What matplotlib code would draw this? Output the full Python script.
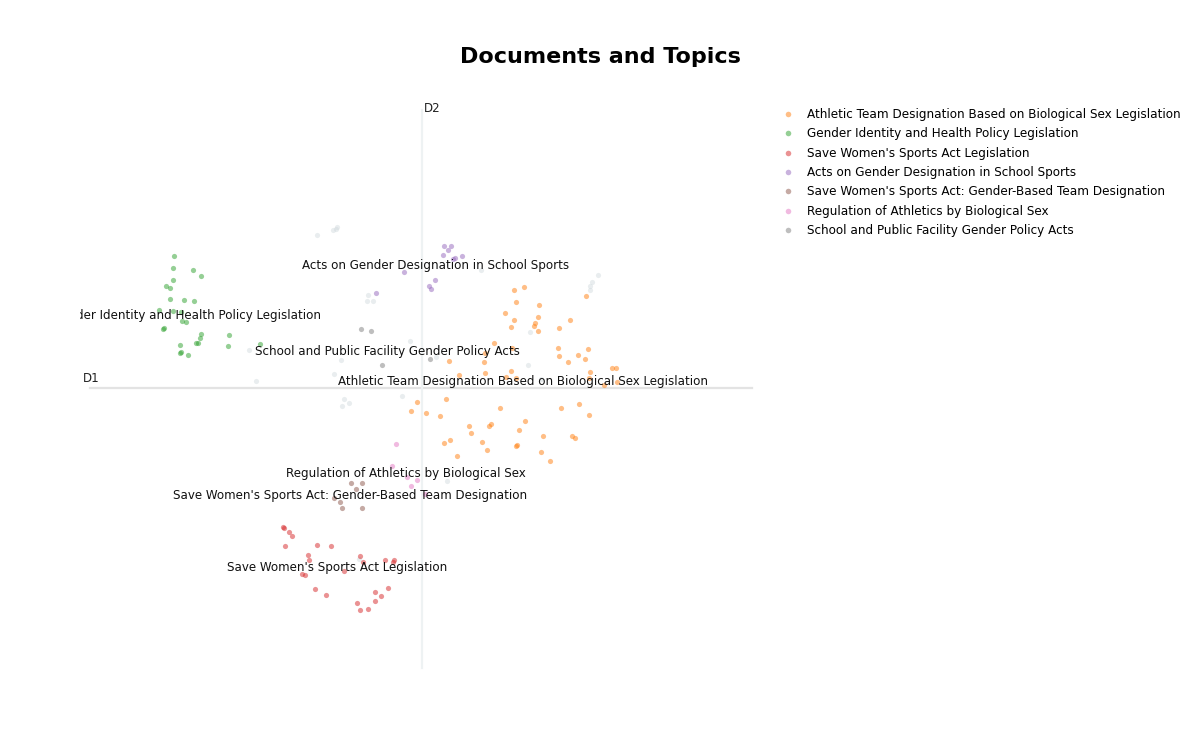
import matplotlib
matplotlib.use("Agg")
import matplotlib.pyplot as plt
from matplotlib.lines import Line2D
import numpy as np

plt.rcParams['font.family'] = ['DejaVu Sans']

# ---------------- data (2D document embedding, D1 / D2) ----------------
topic_names = [
    "Athletic Team Designation Based on Biological Sex Legislation",
    "Gender Identity and Health Policy Legislation",
    "Save Women's Sports Act Legislation",
    "Acts on Gender Designation in School Sports",
    "Save Women's Sports Act: Gender-Based Team Designation",
    "Regulation of Athletics by Biological Sex",
    "School and Public Facility Gender Policy Acts",
]
topic_colors = ["#ff7f0e", "#2ca02c", "#d62728", "#9467bd", "#8c564b", "#e377c2", "#7f7f7f"]

athletic_d1 = [92, 102, 94, 117, 83, 92, 116, 113, 112, 116, 89, 148, 137, 164, 72, 90, 63, 27, 62, 63,
               37, 89, 84, 94, 136, 137, 156, 166, 163, 146, 168, 167, 190, 194, 195, 182, 24, 4, 18, 78,
               139, 157, 167, 103, 69, 67, 47, 49, 97, 121, 150, 153, 60, 28, 22, 95, 94, 65, 35, 119,
               128, -5, -11]
athletic_d2 = [98, 101, 86, 83, 75, 68, 71, 65, 62, 57, 61, 68, 60, 92, 45, 40, 35, 27, 26, 15,
               13, 17, 11, 10, 40, 32, 33, 39, 29, 26, 16, 10, 20, 20, 6, 3, -11, -25, -28, -20,
               -20, -16, -27, -33, -36, -38, -38, -45, -42, -48, -48, -50, -54, -52, -55, -57, -58, -62, -68, -64,
               -73, -14, -23]

gender_d1 = [-248, -249, -229, -221, -249, -256, -252, -252, -238, -228, -263, -249, -241, -240, -236,
             -259, -258, -221, -222, -226, -224, -193, -194, -242, -241, -242, -234, -162]
gender_d2 = [132, 120, 118, 112, 108, 102, 100, 89, 88, 87, 78, 77, 76, 67, 66,
             59, 60, 54, 50, 45, 45, 53, 42, 43, 36, 35, 33, 44]

swsa_d1 = [-139, -138, -133, -130, -137, -105, -91, -114, -113, -62, -59, -37, -28, -29, -120, -117,
           -78, -107, -96, -47, -34, -41, -65, -47, -62, -54]
swsa_d2 = [-139, -140, -144, -148, -158, -157, -158, -167, -172, -168, -174, -172, -172, -174, -186, -187,
           -183, -201, -207, -204, -200, -208, -215, -213, -222, -221]

acts_d1 = [22, 29, 26, 21, 33, 31, 40, -18, 13, 7, 9, -46]
acts_d2 = [142, 142, 138, 133, 130, 129, 132, 116, 108, 102, 99, 95]

team_d1 = [-71, -60, -66, -88, -82, -80, -60]
team_d2 = [-95, -95, -101, -110, -114, -120, -120]

regulation_d1 = [-26, -30, -15, -5, -11, 3]
regulation_d2 = [-56, -78, -89, -92, -98, -106]

facility_d1 = [-61, -51, -40, 8]
facility_d2 = [59, 57, 23, 29]

outlier_d1 = [-105, -89, -85, -86, -54, -55, -49, -12, -81, -88, -166, -173, -78, -80, -73, -20,
              59, 108, 106, 119, 14, 176, 170, 168, 168, 25, -63]
outlier_d2 = [153, 158, 161, 159, 93, 87, 87, 47, 28, 14, 7, 38, -11, -18, -15, -8,
              118, 56, 23, 9, 31, 113, 106, 102, 98, -93, -171]

# topic label positions (centroids)
label_d1 = [101, -235, -85, 14, -72, -16, -35]
label_d2 = [6, 72, -180, 123, -107, -86, 36]

topic_d1 = [athletic_d1, gender_d1, swsa_d1, acts_d1, team_d1, regulation_d1, facility_d1]
topic_d2 = [athletic_d2, gender_d2, swsa_d2, acts_d2, team_d2, regulation_d2, facility_d2]

# ---------------- figure ----------------
fig = plt.figure(figsize=(12, 7.5), dpi=100)
ax = fig.add_axes([80 / 1200, 1 - 680 / 750, 684 / 1200, 580 / 750])
ax.set_xlim(-342, 342)
ax.set_ylim(-292, 288)
ax.axis('off')

# centre lines
ax.plot([-332, 330], [0, 0], color='#e3e3e3', lw=1.6, zorder=0)
ax.plot([0, 0], [-280, 278], color='#eef2f3', lw=1.6, zorder=0)
ax.text(-339, 3, "D1", fontsize=8.6, ha='left', va='bottom', color='#222222')
ax.text(2, 273, "D2", fontsize=8.6, ha='left', va='bottom', color='#222222')

# outliers
ax.scatter(outlier_d1, outlier_d2, s=14, color='#CFD8DC', alpha=0.45, linewidths=0, zorder=1)

handles = []
for name, col, xs, ys in zip(topic_names, topic_colors, topic_d1, topic_d2):
    ax.scatter(xs, ys, s=14, color=col, alpha=0.5, linewidths=0, zorder=2)
    handles.append(Line2D([0], [0], marker='o', linestyle='', markersize=4,
                          markerfacecolor=col, markeredgewidth=0, alpha=0.5, label=name))

for name, lx, ly in zip(topic_names, label_d1, label_d2):
    t = ax.text(lx, ly, name, fontsize=8.6, ha='center', va='center', color='#111111', zorder=3)
    t.set_clip_on(True)

fig.text(0.5, 1 - 57 / 750, "Documents and Topics", fontsize=16, fontweight='bold',
         ha='center', va='center', color='#000000')

fig.legend(handles=handles, loc='upper left', bbox_to_anchor=(782 / 1200, 1 - 108 / 750),
           frameon=False, fontsize=8.65, labelspacing=0.53, handlelength=1.0, handletextpad=1.05,
           borderaxespad=0, borderpad=0)

fig.savefig("out.png", dpi=100)
